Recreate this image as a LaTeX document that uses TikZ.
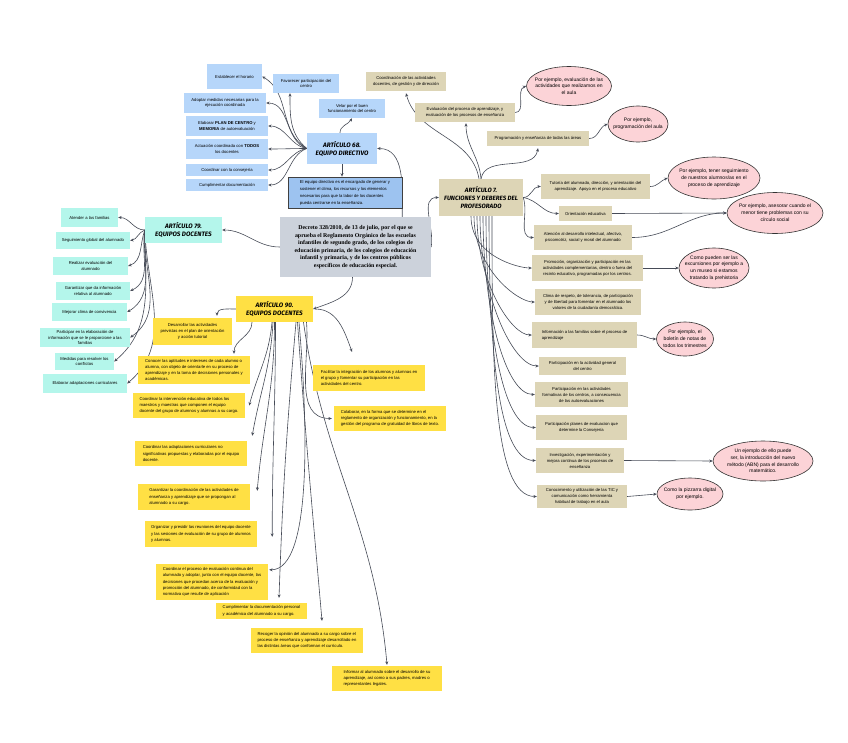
\documentclass[tikz,border=0pt]{standalone}
\usepackage{fontspec}
\setmainfont{Liberation Sans}
\newfontfamily\serifb{Liberation Serif}
\newfontfamily\titlef{Fira Sans}
\usetikzlibrary{shapes.geometric,arrows.meta,calc}
\pgfdeclarelayer{back}\pgfdeclarelayer{bg}\pgfsetlayers{back,bg,main}
\definecolor{cblue}{HTML}{B6D6FA}
\definecolor{cdesc}{HTML}{9DC3F0}
\definecolor{cteal}{HTML}{B4F6EB}
\definecolor{cyel}{HTML}{FFE044}
\definecolor{cbeige}{HTML}{DDD5B6}
\definecolor{cpink}{HTML}{FCD3D7}
\definecolor{ccen}{HTML}{CCD2DB}
\definecolor{cline}{HTML}{464B57}
\tikzset{
  box/.style={rectangle, inner sep=1pt, align=center, text=black, font={\fontsize{4.2}{5.8}\selectfont}},
  ttl/.style={box, font={\titlef\bfseries\itshape\fontsize{6.4}{8}\selectfont}},
  bluebox/.style={box, fill=cblue},
  bluetitle/.style={ttl, fill=cblue},
  descbox/.style={box, fill=cdesc, draw=black!75, line width=0.8pt, align=left, font={\fontsize{4.2}{7}\selectfont}},
  tealbox/.style={box, fill=cteal, font={\fontsize{4.2}{5.6}\selectfont}},
  tealtitle/.style={ttl, fill=cteal},
  yelbox/.style={box, fill=cyel, align=left, font={\fontsize{4.2}{6.3}\selectfont}},
  yelc/.style={yelbox, align=center},
  yeltitle/.style={ttl, fill=cyel},
  beige/.style={box, fill=cbeige, font={\fontsize{4.2}{6}\selectfont}},
  beigel/.style={beige, align=left},
  beigetitle/.style={ttl, fill=cbeige, font={\titlef\bfseries\itshape\fontsize{6.2}{7.8}\selectfont}},
  cenbox/.style={box, fill=ccen, font={\serifb\bfseries\fontsize{5.9}{7.6}\selectfont}},
  pinkel/.style={ellipse, fill=cpink, draw=black!80, line width=0.6pt, inner sep=0pt},
  ptext/.style={align=center, inner sep=0pt, font={\fontsize{5}{6.8}\selectfont}},
  cn/.style={draw=cline, line width=0.6pt, -{Stealth[length=3.4pt,width=3pt]}},
}
\newcommand\placebox[7]{\node[#1, minimum width={(#5)-(#3)}, minimum height={(#6)-(#4)}] (#2) at ({((#3)+(#5))/2},{((#4)+(#6))/2}) {#7};}
\newcommand\placeell[6]{\node[pinkel, minimum width=#4, minimum height=#5] (#1) at (#2,#3) {}; \node[ptext] (#1t) at (#1) {#6};}
\begin{document}
\begin{tikzpicture}[x=1pt,y=-1pt]
\begin{pgfonlayer}{back}
\fill[white] (0,0) rectangle (848,742);
\end{pgfonlayer}
\useasboundingbox (0,0) rectangle (848,742);
% ---------- blue cluster
\placebox{bluebox}{est}{207}{64}{262}{89}{Establecer el horario}
\placebox{bluebox}{fav}{273}{74}{339}{93}{Favorecer participación del\\centro}
\placebox{bluebox}{ado}{184}{93}{266}{113}{Adoptar medidas necesarias para la\\ejecución coordinada}
\placebox{bluebox}{vel}{319}{99}{385}{118}{Velar por el buen\\funcionamiento del centro}
\placebox{bluebox}{ela}{186}{116}{268}{136}{Elaborar \textbf{PLAN DE CENTRO} y\\\textbf{MEMORIA} de autoevaluación}
\placebox{bluebox}{act}{186}{139}{268}{159}{Actuación coordinada con \textbf{TODOS}\\los docentes}
\placebox{bluetitle}{ed}{307}{133}{377}{164}{ARTÍCULO 68.\\EQUIPO DIRECTIVO}
\placebox{bluebox}{coc}{186}{164}{268}{176}{Coordinar con la consejería}
\placebox{bluebox}{cud}{186}{179}{268}{191}{Cumplimentar documentación}
\placebox{descbox}{dsc}{288}{177}{402}{208}{El equipo directivo es el encargado de generar y\\sostener el clima, los recursos y los elementos\\necesarios para que la labor de los docentes\\pueda centrarse en la enseñanza.}
% ---------- central
\placebox{cenbox}{cen}{280}{217}{431}{277}{Decreto 328/2010, de 13 de julio, por el que se\\aprueba el Reglamento Orgánico de las escuelas\\infantiles de segundo grado, de los colegios de\\educación primaria, de los colegios de educación\\infantil y primaria, y de los centros públicos\\específicos de educación especial.}
% ---------- teal cluster
\placebox{tealbox}{ate}{61}{208}{118}{227}{Atender a las familias}
\placebox{tealtitle}{a79}{145}{217}{222}{243}{ARTÍCULO 79.\\EQUIPOS DOCENTES}
\placebox{tealbox}{seg}{56}{232}{130}{249}{Seguimiento global del alumnado}
\placebox{tealbox}{rea}{53}{257}{128}{275}{Realizar evaluación del\\alumnado}
\placebox{tealbox}{gar}{56}{282}{130}{300}{Garantizar que da información\\relativa al alumnado}
\placebox{tealbox}{mej}{52}{303}{127}{321}{Mejorar clima de convivencia}
\placebox{tealbox}{par}{40}{328}{130}{347}{Participar en la elaboración de\\información que se le proporcione a las\\familias}
\placebox{tealbox}{med}{55}{353}{114}{370}{Medidas para resolver los\\conflictos}
\placebox{tealbox}{eac}{43}{374}{127}{393}{Elaborar adaptaciones curriculares}
% ---------- yellow cluster
\placebox{yeltitle}{a90}{236}{296}{313}{322}{ARTÍCULO 90.\\EQUIPOS DOCENTES}
\placebox{yelc}{des}{153}{318}{232}{345}{Desarrollar las actividades\\previstas en el plan de orientación\\y acción tutorial}
\placebox{yelbox}{con}{138}{356}{250}{384}{Conocer las aptitudes e intereses de cada alumno o\\alumna, con objeto de orientarle en su proceso de\\aprendizaje y en la toma de decisiones personales y\\académicas.}
\placebox{yelbox}{fac}{313}{365}{425}{391}{Facilitar la integración de los alumnos y alumnas en\\el grupo y fomentar su participación en las\\actividades del centro.}
\placebox{yelbox}{ci}{133}{393}{245}{418}{Coordinar la intervención educativa de todos los\\maestros y maestras que componen el equipo\\docente del grupo de alumnos y alumnas a su cargo.}
\placebox{yelbox}{col}{334}{406}{446}{431}{Colaborar, en la forma que se determine en el\\reglamento de organización y funcionamiento, en la\\gestión del programa de gratuidad de libros de texto.}
\placebox{yelbox}{ada}{135}{441}{247}{466}{Coordinar las adaptaciones curriculares no\\significativas propuestas y elaboradas por el equipo\\docente.}
\placebox{yelbox}{gac}{138}{484}{250}{510}{Garantizar la coordinación de las actividades de\\enseñanza y aprendizaje que se propongan al\\alumnado a su cargo.}
\placebox{yelbox}{org}{145}{521}{257}{547}{Organizar y presidir las reuniones del equipo docente\\y las sesiones de evaluación de su grupo de alumnos\\y alumnas.}
\placebox{yelbox}{eva}{156}{564}{268}{600}{Coordinar el proceso de evaluación continua del\\alumnado y adoptar, junto con el equipo docente, las\\decisiones que procedan acerca de la evaluación y\\promoción del alumnado, de conformidad con la\\normativa que resulte de aplicación}
\placebox{yelbox}{cum}{216}{603}{307}{619}{Cumplimentar la documentación personal\\y académica del alumnado a su cargo.}
\placebox{yelbox}{rec}{251}{628}{363}{653}{Recoger la opinión del alumnado a su cargo sobre el\\proceso de enseñanza y aprendizaje desarrollado en\\las distintas áreas que conforman el currículo.}
\placebox{yelbox}{inf}{332}{666}{442}{691}{Informar al alumnado sobre el desarrollo de su\\aprendizaje, así como a sus padres, madres o\\representantes legales.}
% ---------- beige cluster
\placebox{beige}{cod}{366}{72}{446}{91}{Coordinación de las actividades\\docentes, de gestión y de dirección}
\placebox{beige}{evp}{415}{103}{515}{122}{Evaluación del proceso de aprendizaje, y\\evaluación de los procesos de enseñanza}
\placebox{beige}{prg}{487}{131}{589}{146}{Programación y enseñanza de todas las áreas}
\placebox{beigetitle}{a7}{439}{179}{523}{216}{ARTÍCULO 7.\\FUNCIONES Y DEBERES DEL\\PROFESORADO}
\placebox{beige}{tut}{541}{174}{650}{199}{Tutoría del alumnado, dirección, y orientación del\\aprendizaje. Apoyo en el proceso educativo}
\placebox{beige}{ori}{559}{206}{612}{221}{Orientación educativa}
\placebox{beige}{atn}{534}{225}{632}{250}{Atención al desarrollo intelectual, afectivo,\\psicomotriz, social y moral del alumnado}
\placebox{beige}{pro}{532}{255}{643}{281}{Promoción, organización y participación en las\\actividades complementarias, dentro o fuera del\\recinto educativo, programadas por los centros.}
\placebox{beige}{cli}{535}{289}{641}{315}{Clima de respeto, de tolerancia, de participación\\y de libertad para fomentar en el alumnado los\\valores de la ciudadanía democrática.}
\placebox{beigel}{inff}{532}{322}{637}{348}{Información a las familias sobre el proceso de\\aprendizaje}
\placebox{beige}{pag}{539}{357}{626}{375}{Participación en la actividad general\\del centro}
\placebox{beige}{paf}{535}{382}{628}{407}{Participación en las actividades\\formativas de los centros, a consecuencia\\de las autoevaluaciones}
\placebox{beige}{ple}{536}{415}{627}{440}{Participación planes de evaluacion que\\determine la Consejería}
\placebox{beige}{inv}{536}{448}{624}{473}{Investigación, experimentación y\\mejora continua de los procesos de\\enseñanza}
\placebox{beige}{tic}{537}{485}{627}{508}{Conocimiento y utilización de las TIC y\\comunicación como herramienta\\habitual de trabajo en el aula}
% ---------- pink ellipses
\placeell{e1}{569}{86}{85}{39}{Por ejemplo, evaluación de las\\actividades que realizamos en\\el aula}
\placeell{e2}{638}{124}{60}{36}{Por ejemplo,\\programación del aula}
\placeell{e3}{714}{178}{92}{42}{Por ejemplo, tener seguimiento\\de nuestros alumnos/as en el\\proceso de aprendizaje}
\placeell{e4}{775}{213}{96}{41}{Por ejemplo, asesorar cuando el\\menor tiene problemas con su\\círculo social}
\placeell{e5}{714}{268}{70}{40}{Como pueden ser las\\excursiones por ejemplo a\\un museo si estamos\\tratando la prehistoria}
\placeell{e6}{685}{339}{57}{34}{Por ejemplo, el\\boletín de notas de\\todos los trimestres}
\placeell{e7}{763}{461}{100}{40}{Un ejemplo de ello puede\\ser, la introducción del nuevo\\método (ABN) para el desarrollo\\matemático.}
\placeell{e8}{690}{494}{66}{32}{Como la pizzarra digital\\por ejemplo.}
% ---------- connectors
\begin{pgfonlayer}{bg}
% ED 68
\draw[cn] (ed.west) to[out=150,in=-30] (est.east);
\draw[cn] (ed.west) to[out=140,in=-90] ([xshift=-16pt]fav.south);
\draw[cn] (ed.west) to[out=160,in=0] (ado.east);
\draw[cn] (ed.west) to[out=170,in=0] (ela.east);
\draw[cn] (ed.west) to[out=180,in=0] (act.east);
\draw[cn] (ed.west) to[out=190,in=0] (coc.east);
\draw[cn] (ed.west) to[out=200,in=0] (cud.east);
\draw[cn] ([xshift=-2pt]ed.north) to[out=90,in=-120] (vel.south);
\draw[cn] (ed.south) -- (ed.south |- dsc.north);
\draw[cn] ([xshift=-29pt]cen.north east) to[out=90,in=0] (ed.east);
% ART 79
\draw[cn] (cen.west) to[out=180,in=0] (a79.east);
\draw[cn] (a79.west) to[out=180,in=0] (ate.east);
\draw[cn] (a79.west) to[out=200,in=10] (seg.east);
\draw[cn] (a79.west) to[out=-110,in=20] (rea.east);
\draw[cn] (a79.west) to[out=-100,in=25] (gar.east);
\draw[cn] (a79.west) to[out=-95,in=30] (mej.east);
\draw[cn] (a79.west) to[out=-93,in=35] (par.east);
\draw[cn] (a79.west) to[out=-90,in=40] (med.east);
\draw[cn] (a79.west) to[out=-88,in=40] (eac.east);
% ART 90
\draw[cn] ([xshift=-3pt]cen.south) to[out=-90,in=20] (a90.east);
\draw[cn] (a90.west) to[out=180,in=90] ([xshift=24.5pt,yshift=2pt]des.north);
\draw[cn] ([xshift=-22.5pt]a90.south) to[out=-90,in=90] ([xshift=40pt,yshift=2pt]con.north);
\draw[cn] ([xshift=2pt]a90.east) to[out=0,in=110] ([xshift=-17pt,yshift=13pt]fac.north);
\draw[cn] ([xshift=-2.5pt]a90.south) to[out=-95,in=75] ([xshift=4pt]ci.east);
\draw[cn] ([xshift=-1.5pt]a90.south) to[out=-93,in=80] ([xshift=5pt,yshift=5pt]ada.north east);
\draw[cn] ([xshift=0pt]a90.south) to[out=-90,in=85] ([xshift=7pt,yshift=-7pt]gac.north east);
\draw[cn] ([xshift=1pt]a90.south) to[out=-90,in=90] ([xshift=15pt,yshift=-16pt]org.north east);
\draw[cn] ([xshift=24.5pt]a90.south) to[out=-85,in=0,in looseness=0.45] ([xshift=1pt,yshift=-6pt]eva.north east);
\draw[cn] ([xshift=21.5pt]a90.south) to[out=-95,in=88] ([xshift=17.5pt,yshift=5pt]cum.north);
\draw[cn] ([xshift=23pt]a90.south) to[out=-86,in=95] ([xshift=15pt,yshift=7pt]rec.north);
\draw[cn] ([xshift=32pt]a90.south) to[out=-85,in=180] ([xshift=-2pt]col.west);
\draw[cn] ([xshift=29pt]a90.south) to[out=-82,in=95] ([yshift=1pt]inf.north);
% ART 7
\draw[cn] (cen.east) to[out=80,in=180] (a7.west);
\draw[cn] ([xshift=-2pt]a7.north) to[out=100,in=-75] ([yshift=-2pt]cod.south);
\draw[cn] (a7.north) to[out=95,in=-90] ([xshift=1pt,yshift=-1pt]evp.south);
\draw[cn] (a7.north) to[out=80,in=-100] ([yshift=-2pt]prg.south);
\draw[cn] (evp.east) to[out=0,in=200] (e1.west);
\draw[cn] (prg.east) to[out=0,in=200] (e2.west);
\draw[cn] (a7.east) to[out=0,in=180] (tut.west);
\draw[cn] (tut.east) to[out=0,in=200] (e3.west);
\draw[cn] (a7.east) to[out=-10,in=180] (ori.west);
\draw[cn] (a7.east) to[out=-70,in=180] (atn.west);
\draw[cn] (ori.east) -- (e4.west);
\draw[cn] (atn.east) to[out=0,in=180] (e4.west);
\draw[cn] (pro.east) -- (e5.west);
\draw[cn] (inff.east) to[out=0,in=180] (e6.west);
\draw[cn] (inv.east) -- (e7.west);
\draw[cn] (tic.east) -- (e8.west);
\foreach \nd/\s in {pro/-10,cli/-7,inff/-4,pag/-1,paf/2,ple/5,inv/8,tic/11}{
  \draw[cn] ([xshift=\s pt]a7.south) to[out=-90,in=180,out looseness=1.3,in looseness=0.4] (\nd.west);
}
\end{pgfonlayer}
\end{tikzpicture}
\end{document}
